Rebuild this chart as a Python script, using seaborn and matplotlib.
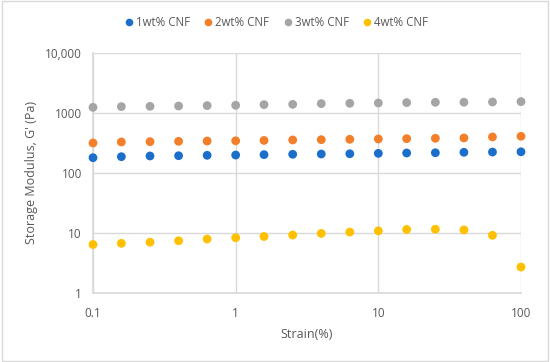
import matplotlib
matplotlib.use("Agg")
import matplotlib.pyplot as plt
import matplotlib.ticker as mticker
from matplotlib.patches import Rectangle
from matplotlib.lines import Line2D
import seaborn as sns
import pandas as pd

strain = [0.1, 0.158, 0.251, 0.398, 0.631, 1.0, 1.58, 2.51,
          3.98, 6.31, 10.0, 15.8, 25.1, 39.8, 63.1, 100.0]
g_1wt = [178, 185, 190, 192, 195, 197, 200, 203,
         205, 207, 210, 213, 215, 219, 221, 223]
g_2wt = [313, 325, 329, 333, 337, 340, 345, 351,
         355, 360, 365, 369, 374, 379, 394, 404]
g_3wt = [1225, 1259, 1274, 1288, 1309, 1324, 1359, 1374,
         1413, 1429, 1445, 1469, 1486, 1490, 1503, 1524]
g_4wt = [6.4, 6.7, 7.0, 7.4, 7.9, 8.3, 8.7, 9.2,
         9.8, 10.3, 10.8, 11.4, 11.5, 11.2, 9.1, 2.7]
series_names = ["1wt% CNF", "2wt% CNF", "3wt% CNF", "4wt% CNF"]
colors = ["#1B6FCB", "#F47F2A", "#A5A5A5", "#FFC000"]
x_ticks = [0.1, 1, 10, 100]
x_tick_labels = ["0.1", "1", "10", "100"]
y_ticks = [1, 10, 100, 1000, 10000]
y_tick_labels = ["1", "10", "100", "1000", "10,000"]

rows = []
for name, vals in zip(series_names, [g_1wt, g_2wt, g_3wt, g_4wt]):
    for s, v in zip(strain, vals):
        rows.append({"Strain": s, "G": v, "Series": name})
df = pd.DataFrame(rows)

sns.set_theme(style="white")
plt.rcParams["font.family"] = ["Open Sans", "DejaVu Sans"]
txt = "#595959"
grid = "#D9D9D9"

fig = plt.figure(figsize=(5.5, 3.62), dpi=100)
ax = fig.add_axes([93/550, 1-293/362, (521-93)/550, (293-52.5)/362])

sns.scatterplot(data=df, x="Strain", y="G", hue="Series", palette=colors,
                hue_order=series_names, s=40, edgecolor="none", ax=ax,
                legend=False, zorder=3, clip_on=False)
ax.set_xscale("log")
ax.set_yscale("log")
ax.set_xlim(0.1, 100)
ax.set_ylim(1, 10000)
ax.set_xticks(x_ticks)
ax.set_xticklabels(x_tick_labels)
ax.set_yticks(y_ticks)
ax.set_yticklabels(y_tick_labels)
ax.xaxis.set_minor_locator(mticker.NullLocator())
ax.yaxis.set_minor_locator(mticker.NullLocator())
ax.grid(True, which="major", color=grid, linewidth=1.0)
ax.set_axisbelow(True)
for sp in ax.spines.values():
    sp.set_visible(False)
ax.spines["left"].set_visible(True)
ax.spines["bottom"].set_visible(True)
ax.spines["left"].set_color(grid)
ax.spines["bottom"].set_color(grid)
ax.tick_params(axis="both", length=0, labelsize=8.5, colors=txt, pad=8)
ax.tick_params(axis="x", pad=10)
ax.set_xlabel("Strain(%)", fontsize=9, color=txt, labelpad=6)
ax.set_ylabel("Storage Modulus, G' (Pa)", fontsize=9, color=txt, labelpad=5)

handles = [Line2D([0], [0], marker="o", linestyle="", markersize=5.5,
                  markerfacecolor=c, markeredgecolor="none") for c in colors]
fig.legend(handles, series_names, loc="center", bbox_to_anchor=(0.5, 1-23/362),
           ncol=4, frameon=False, fontsize=8.3, handletextpad=0.0,
           columnspacing=1.0, handlelength=1.2, labelcolor=txt)

fig.patches.append(Rectangle((0.004, 0.004), 0.992, 0.992, transform=fig.transFigure,
                             fill=False, edgecolor="#D9D9D9", linewidth=1))

fig.savefig("out.png", dpi=100)
